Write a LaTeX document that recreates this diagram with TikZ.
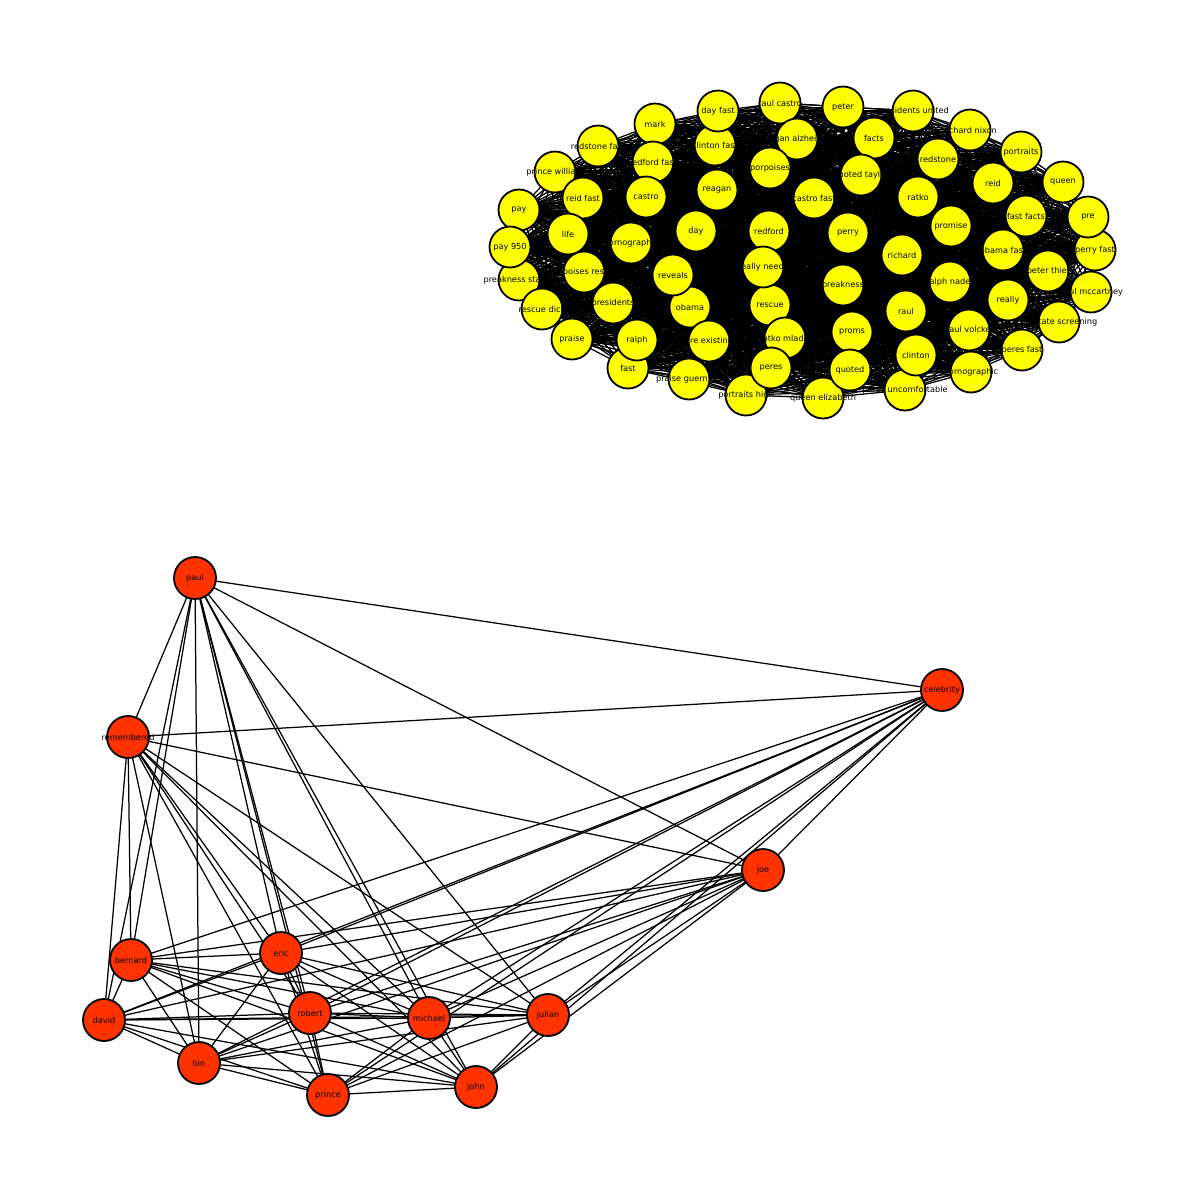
\documentclass[tikz,border=0pt]{standalone}
\usepackage{fontspec}
\setmainfont{DejaVu Sans}
\usetikzlibrary{backgrounds}
\definecolor{nodeyellow}{RGB}{255,255,0}
\definecolor{nodered}{RGB}{255,51,0}

% name/x/y/label, in pixel units of the 1200x1200 picture
\def\yellownodes{redstonefast/598/146/{redstone fast}, princewilliam/555/172/{prince william},
  reidfast/583/198/{reid fast}, mark/655/124/mark, redfordfast/653/162/{redford fast},
  clintonfast/715/145/{clinton fast}, dayfast/718/111/{day fast}, raulcastro/780/103/{raul castro},
  reaganalz/797/139/{reagan alzheimer}, peter/843/107/peter, facts/874/138/facts,
  quotedtaylor/861/175/{quoted taylor}, presunited/913/111/{presidents united},
  richardnixon/970/130/{richard nixon}, portraits/1021/152/portraits, redstone/938/159/redstone,
  reid/993/183/reid, fastfacts/1026/216/{fast facts}, queen/1063/182/queen,
  perryfast/1095/250/{perry fast}, pre/1088/217/pre, obamafast/1003/250/{obama fast},
  peterthiel/1048/271/{peter thiel}, paulmccartney/1091/292/{paul mccartney},
  peresfast/1022/350/{peres fast}, prostate/1059/322/{prostate screening}, really/1008/300/really,
  pornoright/971/372/pornographic, paulvolcker/969/330/{paul volcker},
  uncomf/905/390/{peres uncomfortable}, clinton/916/355/clinton, queeneliz/823/398/{queen elizabeth},
  proms/852/332/proms, quoted/850/370/quoted, portraitshigh/746/395/{portraits high},
  rescue/770/305/rescue, ratkomladic/785/338/{ratko mladic}, peres/771/368/peres,
  obama/690/307/obama, preexisting/709/341/{pre existing}, praiseguern/689/379/{praise guernsey},
  fast/628/368/fast, presidents/613/303/presidents, ralph/637/340/ralph, pay/519/210/pay,
  preaknessstakes/519/280/{preakness stakes}, pay950/510/247/{pay 950}, rescuedick/542/309/{rescue dick},
  praise/572/339/praise, life/568/234/life, porprescue/584/272/{porpoises rescue},
  castro/646/197/castro, pornoleft/631/243/pornographic, reagan/717/190/reagan, day/696/231/day,
  reveals/673/275/reveals, porpoises/770/168/porpoises, castrofast/814/198/{castro fast},
  redford/769/231/redford, reallyneeds/763/267/{really needs}, perry/848/233/perry,
  preakness/843/285/preakness, ratko/918/197/ratko, promise/951/226/promise,
  richard/902/255/richard, ralphnader/950/282/{ralph nader}, raul/906/311/raul}

\def\rednodes{paul/195/578, remembered/128/737, celebrity/942/690, joe/763/870,
  bernard/131/960, eric/281/953, david/104/1020, robert/310/1013, michael/429/1018,
  julian/548/1015, bin/199/1063, prince/328/1095, john/476/1087}

\begin{document}
\begin{tikzpicture}[x=1pt, y=-1pt,
    every node/.style={font=\fontsize{8.2}{9}\selectfont, inner sep=0pt, outer sep=0pt},
    ynode/.style={circle, draw=black, line width=1.8pt, fill=nodeyellow, minimum size=41pt},
    rnode/.style={circle, draw=black, line width=1.8pt, fill=nodered, minimum size=42pt},
    edge/.style={black, line width=1.25pt}]
    \useasboundingbox (0,0) rectangle (1200,1200);

    % Yellow cluster
    \foreach \n/\x/\y/\t in \yellownodes
        \node[ynode] (\n) at (\x,\y) {};
    \begin{pgfonlayer}{background}
    \foreach \n/\x/\y/\t [count=\i] in \yellownodes
        \foreach \m/\u/\v/\s [count=\j] in \yellownodes
            {\ifnum\j<\i \draw[edge] (\n) -- (\m); \fi}
    \end{pgfonlayer}
    \foreach \n/\x/\y/\t in \yellownodes
        \node at (\n) {\t};

    % Red cluster
    \foreach \n/\x/\y in \rednodes
        \node[rnode] (\n) at (\x,\y) {};
    \begin{pgfonlayer}{background}
    \foreach \n/\x/\y [count=\i] in \rednodes
        \foreach \m/\u/\v [count=\j] in \rednodes
            {\ifnum\j<\i \draw[edge] (\n) -- (\m); \fi}
    \end{pgfonlayer}
    \foreach \n/\x/\y in \rednodes
        \node at (\n) {\n};

\end{tikzpicture}
\end{document}
